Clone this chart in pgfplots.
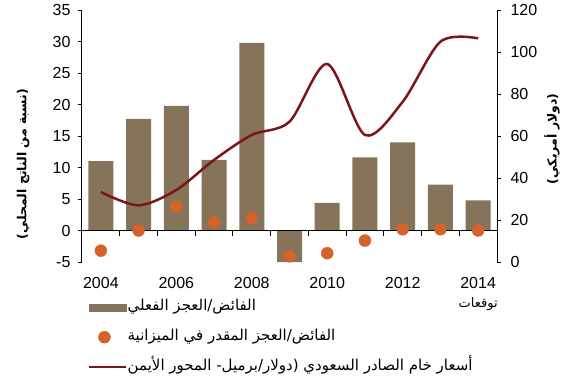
\documentclass[border=0pt]{standalone}
\usepackage{pgfplots}
\pgfplotsset{compat=1.18}
\usepackage{fontspec}
\setmainfont{Liberation Sans}
\newfontfamily\arabicfont[Script=Arabic]{DejaVu Sans}
\TeXXeTstate=1
\definecolor{barc}{HTML}{857459}
\definecolor{dotc}{HTML}{D4622B}
\definecolor{linec}{HTML}{7B1518}
\begin{document}
\begin{tikzpicture}
\path[use as bounding box] (-82pt,-116pt) rectangle (488pt,262pt);
\begin{axis}[
  at={(0,0)}, anchor=south west,
  scale only axis, width=415pt, height=252pt,
  xmin=-0.5, xmax=10.5, ymin=-5, ymax=35,
  axis y line*=left, axis x line*=bottom,
  x axis line style={draw=none},
  y axis line style={line width=1pt},
  xtick={0,2,4,6,8,10},
  xticklabels={2004,2006,2008,2010,2012,{2014\\[1pt]{\fontsize{13}{13}\selectfont\arabicfont\beginR توقعات\endR}}},
  xticklabel style={align=center, yshift=-8pt},
  xtick style={draw=none},
  ytick={-5,0,...,35},
  tick align=outside, major tick length=4pt,
  ytick style={line width=1pt, black},
  tick label style={font=\fontsize{16}{18}\selectfont},
  /pgf/number format/assume math mode=true,
  yticklabel style={xshift=-4pt},
  ylabel={\fontsize{12.5}{15}\selectfont\arabicfont\bfseries\beginR (نسبة من الناتج المحلي)\endR},
  ylabel style={at={(axis description cs:-0.142,0.389)}, anchor=center},
  clip=true,
]
\addplot[ybar, bar width=25pt, fill=barc, draw=none] coordinates {
(0,11.0) (1,17.7) (2,19.8) (3,11.2) (4,29.8) (5,-5.0) (6,4.4) (7,11.6) (8,14.0) (9,7.3) (10,4.8)};
\draw[line width=1pt] (axis cs:-0.5,0) -- (axis cs:10.5,0);
\pgfplotsinvokeforeach{0.5,1.5,2.5,3.5,4.5,5.5,6.5,7.5,8.5,9.5}{\draw[line width=1pt] (axis cs:#1,0) -- ++(0pt,-5pt);}
\addplot[only marks, mark=*, mark size=6pt, color=dotc] coordinates {
(0,-3.2) (1,0) (2,3.8) (3,1.3) (4,2.0) (5,-4.1) (6,-3.6) (7,-1.6) (8,0.2) (9,0.2) (10,0)};
\end{axis}
\begin{axis}[
  at={(0,0)}, anchor=south west,
  scale only axis, width=415pt, height=252pt,
  xmin=-0.5, xmax=10.5, ymin=0, ymax=120,
  axis y line*=right, axis x line=none,
  y axis line style={line width=1pt},
  ytick={0,20,...,120},
  tick align=outside, major tick length=4pt,
  ytick style={line width=1pt, black},
  tick label style={font=\fontsize{16}{18}\selectfont},
  /pgf/number format/assume math mode=true,
  yticklabel style={xshift=6pt},
  ylabel={\fontsize{12.5}{15}\selectfont\arabicfont\bfseries\beginR (دولار أمريكي)\endR},
  ylabel style={at={(axis description cs:1.1325,0.488)}, anchor=center},
  legend style={draw=none, fill=none, at={(axis description cs:0,0)}, anchor=north west,
    xshift=6pt, yshift=-38pt, inner sep=0pt, row sep=16pt,
    nodes={inner sep=0pt, text height=10pt, text depth=4pt, font=\fontsize{15}{17}\selectfont},
    /tikz/every even column/.append style={column sep=3pt}},
  legend cell align=left,
]
\addlegendimage{legend image code/.code={\fill[barc] (0pt,-3.5pt) rectangle (37pt,3.5pt);}}
\addlegendentry{\arabicfont\beginR الفائض/العجز الفعلي\endR}
\addlegendimage{legend image code/.code={\fill[dotc] (15pt,0pt) circle (6pt);}}
\addlegendentry{\arabicfont\beginR الفائض/العجز المقدر في الميزانية\endR}
\addplot[linec, line width=2.5pt, smooth, tension=0.5,
  legend image code/.code={\draw[linec, line width=2.5pt] (0pt,0pt) -- (37pt,0pt);}] coordinates {
(0,33.3) (1,27.0) (2,34.3) (3,48.6) (4,60.5) (5,66.8) (6,94.3) (7,60.5) (8,76.3) (9,104.9) (10,106.5)};
\addlegendentry{\arabicfont\beginR أسعار خام الصادر السعودي (دولار/برميل- المحور الأيمن\endR}
\end{axis}
\end{tikzpicture}
\end{document}
